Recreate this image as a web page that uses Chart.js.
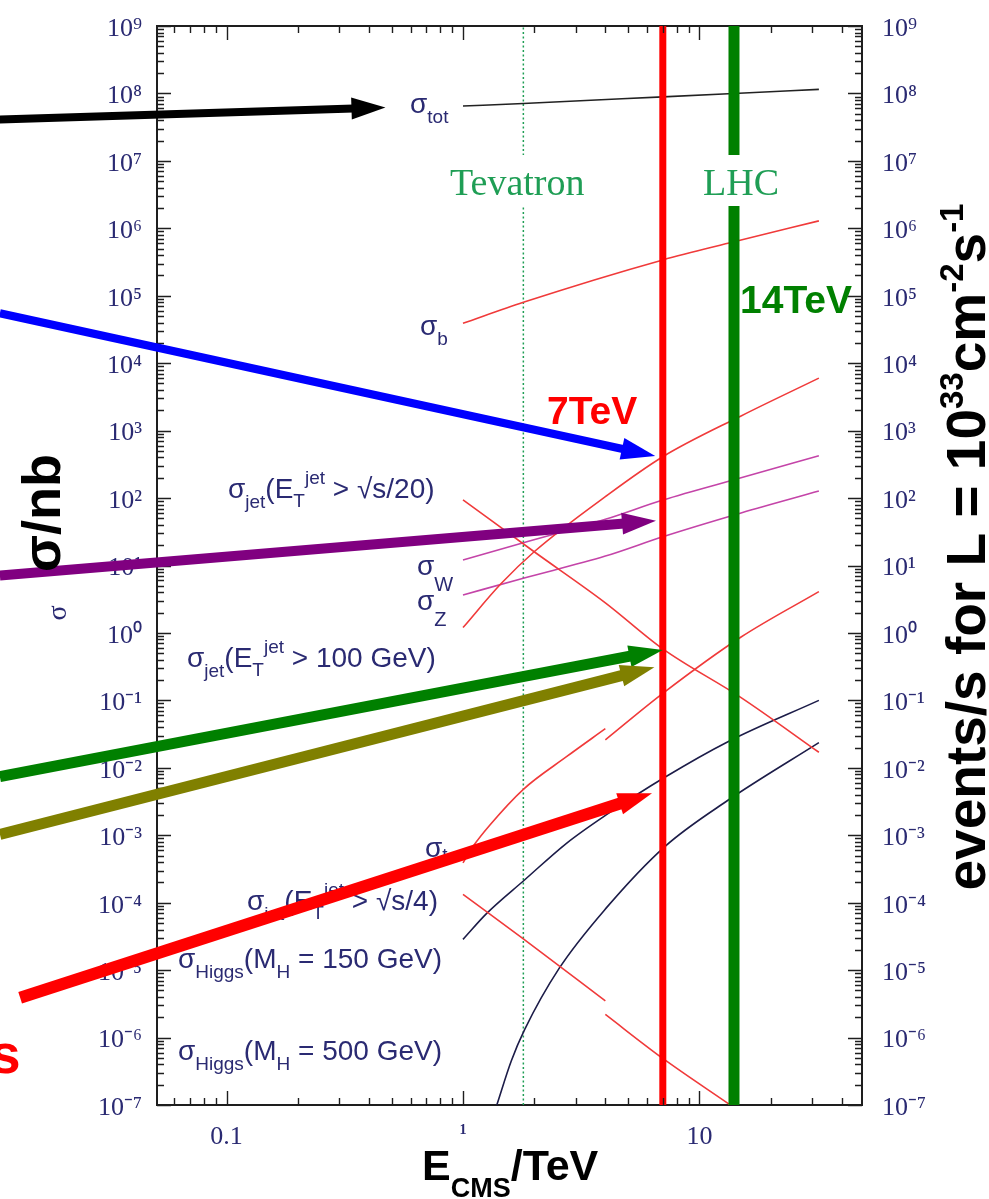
<!DOCTYPE html>
<html>
<head>
<meta charset="utf-8">
<title>Cross sections vs centre-of-mass energy</title>
<script src="https://cdn.jsdelivr.net/npm/chart.js@4.4.1/dist/chart.umd.min.js"></script>
<style>
  html, body { margin: 0; padding: 0; background: #ffffff; }
  #wrap { width: 989px; height: 1199px; position: relative; background: #ffffff; }
</style>
</head>
<body>
<div id="wrap"><canvas id="c" width="989" height="1199"></canvas></div>
<script>
// ---------------- data (E in TeV, sigma in nb) ----------------
const sigmaTotE   = [1, 1.8, 7, 14, 32];
const sigmaTot    = [6.5e7, 7.1e7, 8.9e7, 1.0e8, 1.15e8];

const sigmaBE     = [1, 1.8, 7, 14, 32];
const sigmaB      = [3.9e4, 8.0e4, 3.4e5, 6.3e5, 1.29e6];

const jetE100E    = [1, 1.45, 2, 4, 7, 15, 32];
const jetE100     = [1.2, 5.4, 16, 105, 410, 1650, 6000];

const jetS20E     = [1, 2, 4, 7, 15, 32];
const jetS20      = [94, 16, 2.8, 0.58, 0.11, 0.017];

const sigmaWE     = [1, 1.8, 4, 7, 15, 32];
const sigmaW      = [12.1, 21.8, 48.4, 93.5, 200, 425];

const sigmaZE     = [1, 1.8, 4, 7, 15, 32];
const sigmaZ      = [3.66, 6.47, 13.8, 26.7, 60.1, 127];

// top quark: p-pbar below 4 TeV, p-p above
const sigmaTopLowE  = [1, 1.1, 1.3, 1.8, 2.74, 4];
const sigmaTopLow   = [3.9e-4, 6.75e-4, 1.42e-3, 4.8e-3, 1.46e-2, 3.8e-2];
const sigmaTopHighE = [4, 7, 15, 32];
const sigmaTopHigh  = [2.6e-2, 0.127, 0.87, 4.1];

const jetS4LowE   = [1, 1.8, 4];
const jetS4Low    = [1.33e-4, 2.9e-5, 3.5e-6];
const jetS4HighE  = [4, 7, 13.5];
const jetS4High   = [2.2e-6, 4.9e-7, 1.0e-7];

const higgs150E   = [1, 1.26, 1.82, 2.74, 4.03, 7.14, 13.2, 32];
const higgs150    = [2.86e-5, 6.95e-5, 2.17e-4, 7.6e-4, 2.0e-3, 7.24e-3, 2.44e-2, 0.1];

const higgs500E   = [1.39, 1.6, 1.82, 2.55, 4.03, 7.14, 13.2, 32];
const higgs500    = [1.0e-7, 4.5e-7, 1.3e-6, 1.06e-5, 8.3e-5, 6.8e-4, 3.3e-3, 2.36e-2];

// collider energies (TeV)
const tevatronE = 1.8;
const lhc7E     = 7;
const lhc14E    = 14;

// annotation arrows: tail and tip in (E, sigma)
const arrowTailE     = [0.011, 0.011, 0.011, 0.011, 0.011, 0.0134];
const arrowTailSigma = [4.1e7, 5.5e4, 7.1, 7.4e-3, 1.03e-3, 3.9e-6];
const arrowTipE      = [0.47, 6.5, 6.55, 7.0, 6.45, 6.3];
const arrowTipSigma  = [6.2e7, 420, 46, 0.56, 0.31, 4.2e-3];

// axes
const X_MIN = 0.0508, X_MAX = 48.7;
const Y_MIN = 1e-7,   Y_MAX = 1e9;
const xTickValues = [0.1, 1, 10];
const xTickLabels = ['0.1', '1', '10'];
const yTickValues = [1e-7, 1e-6, 1e-5, 1e-4, 1e-3, 1e-2, 1e-1, 1e0, 1e1, 1e2, 1e3, 1e4, 1e5, 1e6, 1e7, 1e8, 1e9];
const yTickLabels = ['10⁻⁷', '10⁻⁶', '10⁻⁵', '10⁻⁴', '10⁻³', '10⁻²', '10⁻¹', '10⁰', '10¹', '10²', '10³', '10⁴', '10⁵', '10⁶', '10⁷', '10⁸', '10⁹'];

// ---------------- styles ----------------
const SERIF = "'Liberation Serif', 'Times New Roman', serif";
const SANS  = "'Liberation Sans', Arial, Helvetica, sans-serif";
const NAVY  = '#2a2a72';
const AXIS  = '#1e1e1e';
const RED_THIN = '#f03a3a';
const MAGENTA  = '#c444a8';
const DARKBLUE = '#1c1c48';
const TEV_GREEN = '#1f9e55';
const arrowWidths = [8, 8, 10, 11, 11, 12];
const arrowColors = ['#000000', '#0000ff', '#800080', '#008000', '#808000', '#ff0000'];

// ---------------- datasets ----------------
function pts(E, S) { return E.map((e, i) => ({ x: e, y: S[i] })); }
function curve(E, S, color, width) {
  return {
    data: pts(E, S), showLine: true, borderColor: color, borderWidth: width || 1.6,
    pointRadius: 0, cubicInterpolationMode: 'monotone', fill: false, order: 3
  };
}
function vline(E, color, width, dash, order) {
  return {
    data: [{ x: E, y: Y_MIN }, { x: E, y: Y_MAX }], showLine: true, borderColor: color,
    borderWidth: width, borderDash: dash || [], pointRadius: 0, fill: false, order: order
  };
}

const datasets = [
  vline(lhc7E, '#ff0000', 7, null, 0),
  vline(lhc14E, '#008000', 11, null, 0),
  vline(tevatronE, TEV_GREEN, 1.5, [2, 2.5], 4),
  curve(sigmaTotE, sigmaTot, '#222222'),
  curve(sigmaBE, sigmaB, RED_THIN),
  curve(jetE100E, jetE100, RED_THIN),
  curve(jetS20E, jetS20, RED_THIN),
  curve(sigmaWE, sigmaW, MAGENTA),
  curve(sigmaZE, sigmaZ, MAGENTA),
  curve(sigmaTopLowE, sigmaTopLow, RED_THIN),
  curve(sigmaTopHighE, sigmaTopHigh, RED_THIN),
  curve(jetS4LowE, jetS4Low, RED_THIN),
  curve(jetS4HighE, jetS4High, RED_THIN),
  curve(higgs150E, higgs150, DARKBLUE),
  curve(higgs500E, higgs500, DARKBLUE)
];

// ---------------- text helpers ----------------
function setFont(ctx, p) {
  ctx.font = (p.w || 'normal') + ' ' + p.s + 'px ' + (p.f || SANS);
}
function richWidth(ctx, parts) {
  let w = 0;
  for (const p of parts) { setFont(ctx, p); w += ctx.measureText(p.t).width; }
  return w;
}
function drawRich(ctx, x, y, parts, color) {
  let cx = x;
  ctx.textBaseline = 'alphabetic';
  ctx.textAlign = 'left';
  for (const p of parts) {
    setFont(ctx, p);
    ctx.fillStyle = p.c || color;
    ctx.fillText(p.t, cx, y + (p.dy || 0));
    cx += ctx.measureText(p.t).width;
  }
  return cx;
}

const M = 28, S = 19;
function jetLabel(tail) {
  return [
    { t: 'σ', s: M }, { t: 'jet', s: S, dy: 10 }, { t: '(E', s: M },
    { t: 'T', s: S, dy: 9 }, { t: 'jet', s: S, dy: -14 }, { t: ' > ' + tail, s: M }
  ];
}
function higgsLabel(mass) {
  return [
    { t: 'σ', s: M }, { t: 'Higgs', s: S, dy: 10 }, { t: '(M', s: M },
    { t: 'H', s: S, dy: 10 }, { t: ' = ' + mass + ' GeV)', s: M }
  ];
}

// curve labels: [left x, baseline y, parts]
const curveLabels = [
  [410, 113, [{ t: 'σ', s: M }, { t: 'tot', s: S, dy: 10 }]],
  [420, 335, [{ t: 'σ', s: M }, { t: 'b', s: S, dy: 10 }]],
  [228, 498, jetLabel('√s/20)')],
  [417, 575, [{ t: 'σ', s: M }, { t: 'W', s: 20, dy: 16 }]],
  [417, 610, [{ t: 'σ', s: M }, { t: 'Z', s: 20, dy: 16 }]],
  [187, 667, jetLabel('100 GeV)')],
  [425, 857, [{ t: 'σ', s: M }, { t: 't', s: S, dy: 4 }]],
  [247, 910, jetLabel('√s/4)')],
  [178, 968, higgsLabel(150)],
  [178, 1060, higgsLabel(500)]
];

// ---------------- plugin: ticks, labels, arrows, titles ----------------
function arrow(ctx, x0, y0, x1, y1, color, w) {
  const ang = Math.atan2(y1 - y0, x1 - x0);
  const c = Math.cos(ang), s = Math.sin(ang);
  const L = 34, H = 11;
  const bx = x1 - L * c, by = y1 - L * s;
  ctx.strokeStyle = color; ctx.fillStyle = color;
  ctx.lineWidth = w; ctx.lineCap = 'butt';
  ctx.beginPath(); ctx.moveTo(x0, y0); ctx.lineTo(bx + 2 * c, by + 2 * s); ctx.stroke();
  ctx.beginPath();
  ctx.moveTo(x1, y1);
  ctx.lineTo(bx - H * s, by + H * c);
  ctx.lineTo(bx + H * s, by - H * c);
  ctx.closePath(); ctx.fill();
}

const decor = {
  id: 'decor',
  afterDatasetsDraw(chart) {
    const { ctx, chartArea: a, scales } = chart;
    const xs = scales.x, ys = scales.y;
    ctx.save();

    // inward tick marks on all four sides
    ctx.strokeStyle = AXIS; ctx.lineWidth = 1.4; ctx.lineCap = 'butt';
    ctx.beginPath();
    for (let n = -2; n <= 1; n++) {
      for (let k = 1; k <= 9; k++) {
        const v = k * Math.pow(10, n);
        if (v < xs.min || v > xs.max) continue;
        const px = Math.round(xs.getPixelForValue(v)) + 0.5;
        const len = k === 1 ? 14 : 7;
        ctx.moveTo(px, a.bottom); ctx.lineTo(px, a.bottom - len);
        ctx.moveTo(px, a.top); ctx.lineTo(px, a.top + len);
      }
    }
    for (let n = -7; n <= 9; n++) {
      for (let k = 1; k <= 9; k++) {
        const v = k * Math.pow(10, n);
        if (v < Y_MIN * 0.999 || v > Y_MAX * 1.001) continue;
        const py = Math.round(ys.getPixelForValue(v)) + 0.5;
        const len = k === 1 ? 14 : 7;
        ctx.moveTo(a.left, py); ctx.lineTo(a.left + len, py);
        ctx.moveTo(a.right, py); ctx.lineTo(a.right - len, py);
      }
    }
    ctx.stroke();

    // collider labels, with a white backing that opens a gap in the lines
    ctx.font = '38px ' + SERIF;
    const tevX = 450, lhcX = 703, colY = 195;
    [[tevX, 'Tevatron'], [lhcX, 'LHC']].forEach(([x, t]) => {
      const w = ctx.measureText(t).width;
      ctx.fillStyle = '#ffffff';
      ctx.fillRect(x - 4, colY - 40, w + 8, 51);
      ctx.fillStyle = TEV_GREEN;
      ctx.fillText(t, x, colY);
    });

    // energy labels
    ctx.font = 'bold 39px ' + SANS;
    ctx.fillStyle = '#ff0000';
    ctx.fillText('7TeV', 547, 424);
    ctx.fillStyle = '#008000';
    ctx.fillText('14TeV', 740, 313);

    // curve labels
    curveLabels.forEach(([x, y, parts]) => drawRich(ctx, x, y, parts, NAVY));

    // arrows
    for (let i = 0; i < arrowTipE.length; i++) {
      arrow(ctx,
        xs.getPixelForValue(arrowTailE[i]), ys.getPixelForValue(arrowTailSigma[i]),
        xs.getPixelForValue(arrowTipE[i]), ys.getPixelForValue(arrowTipSigma[i]),
        arrowColors[i], arrowWidths[i]);
    }
    ctx.restore();
  },
  afterDraw(chart) {
    const { ctx } = chart;
    ctx.save();
    ctx.fillStyle = '#000000';

    // x title
    drawRich(ctx, 422, 1180, [
      { t: 'E', s: 43, w: 'bold' }, { t: 'CMS', s: 27, w: 'bold', dy: 17 }, { t: '/TeV', s: 43, w: 'bold' }
    ], '#000000');

    // left title (rotated)
    const leftParts = [{ t: 'σ/nb', s: 54, w: 'bold' }];
    ctx.save();
    ctx.translate(60, 513);
    ctx.rotate(-Math.PI / 2);
    drawRich(ctx, -richWidth(ctx, leftParts) / 2, 0, leftParts, '#000000');
    ctx.restore();

    // small sigma from the original axis label
    ctx.save();
    ctx.translate(66, 613);
    ctx.rotate(-Math.PI / 2);
    ctx.font = '28px ' + SERIF;
    ctx.fillStyle = NAVY;
    ctx.textAlign = 'center';
    ctx.fillText('σ', 0, 0);
    ctx.restore();

    // right title (rotated)
    const rightParts = [
      { t: 'events/s for L = 10', s: 55, w: 'bold' }, { t: '33', s: 33, w: 'bold', dy: -22 },
      { t: 'cm', s: 55, w: 'bold' }, { t: '-2', s: 33, w: 'bold', dy: -22 },
      { t: 's', s: 55, w: 'bold' }, { t: '-1', s: 33, w: 'bold', dy: -22 }
    ];
    ctx.save();
    ctx.translate(985, 547);
    ctx.rotate(-Math.PI / 2);
    drawRich(ctx, -richWidth(ctx, rightParts) / 2, 0, rightParts, '#000000');
    ctx.restore();

    // clipped red word ending at the lower left
    ctx.font = 'bold 55px ' + SANS;
    ctx.fillStyle = '#ff0000';
    ctx.fillText('s', -10, 1073);
    ctx.restore();
  }
};

// ---------------- chart ----------------
const borderOpts = { display: true, color: AXIS, width: 2 };
function fixWidth(w) {
  return s => { s.width = w; s.paddingTop = 0; s.paddingBottom = 0; };
}
function fixHeight(h) {
  return s => { s.height = h; s.paddingLeft = 0; s.paddingRight = 0; };
}
new Chart(document.getElementById('c'), {
  type: 'scatter',
  data: { datasets },
  options: {
    responsive: false,
    animation: false,
    devicePixelRatio: 1,
    layout: { padding: 0, autoPadding: false },
    plugins: { legend: { display: false }, tooltip: { enabled: false } },
    elements: { point: { radius: 0, hoverRadius: 0 } },
    events: [],
    scales: {
      x: {
        type: 'logarithmic', position: 'bottom', min: X_MIN, max: X_MAX,
        grid: { display: false, drawTicks: false },
        border: borderOpts,
        afterBuildTicks: s => { s.ticks = xTickValues.map(v => ({ value: v })); },
        afterFit: fixHeight(94),
        ticks: {
          autoSkip: false, maxRotation: 0, padding: 17, color: NAVY,
          font: c => (c.tick && c.tick.value === 1)
            ? { family: SERIF, size: 14, weight: 'bold' }
            : { family: SERIF, size: 26 },
          callback: v => xTickLabels[xTickValues.indexOf(v)]
        }
      },
      xTop: {
        type: 'logarithmic', position: 'top', min: X_MIN, max: X_MAX,
        grid: { display: false, drawTicks: false },
        border: borderOpts,
        ticks: { display: false },
        afterFit: fixHeight(26)
      },
      y: {
        type: 'logarithmic', position: 'left', min: Y_MIN, max: Y_MAX,
        grid: { display: false, drawTicks: false },
        border: borderOpts,
        afterBuildTicks: s => { s.ticks = yTickValues.map(v => ({ value: v })); },
        afterFit: fixWidth(157),
        ticks: {
          autoSkip: false, padding: 15, color: NAVY, labelOffset: 3,
          font: { family: SERIF, size: 26 },
          callback: v => yTickLabels[yTickValues.indexOf(v)]
        }
      },
      yRight: {
        type: 'logarithmic', position: 'right', min: Y_MIN, max: Y_MAX,
        grid: { display: false, drawTicks: false },
        border: borderOpts,
        afterBuildTicks: s => { s.ticks = yTickValues.map(v => ({ value: v })); },
        afterFit: fixWidth(127),
        ticks: {
          autoSkip: false, padding: 20, color: NAVY, labelOffset: 3,
          font: { family: SERIF, size: 26 },
          callback: v => yTickLabels[yTickValues.indexOf(v)]
        }
      }
    }
  },
  plugins: [decor]
});
</script>
</body>
</html>
